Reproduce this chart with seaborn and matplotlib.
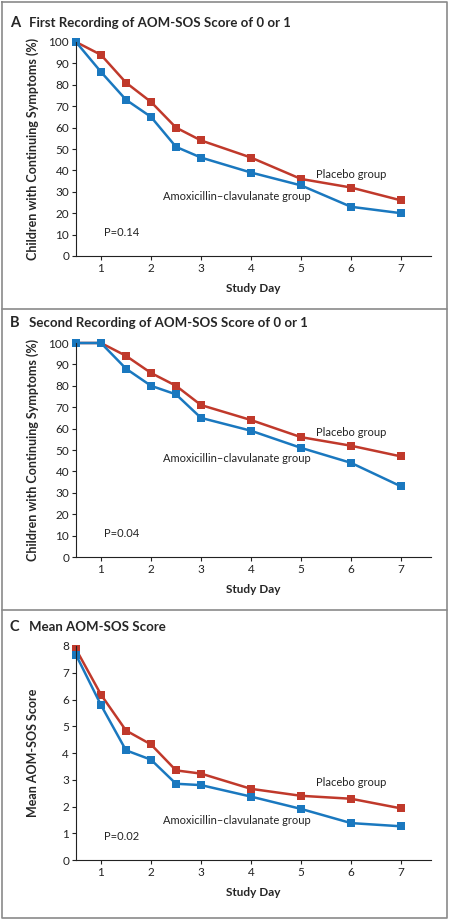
import matplotlib
matplotlib.use('Agg')
import matplotlib.pyplot as plt
from matplotlib.lines import Line2D
import seaborn as sns
import pandas as pd

# Dados
dias = [0.5, 1, 1.5, 2, 2.5, 3, 4, 5, 6, 7]

a_placebo = [100, 94, 81, 72, 60, 54, 46, 36, 32, 26]
a_amox = [100, 86, 73, 65, 51, 46, 39, 33, 23, 20]

b_placebo = [100, 100, 94, 86, 80, 71, 64, 56, 52, 47]
b_amox = [100, 100, 88, 80, 76, 65, 59, 51, 44, 33]

c_placebo = [7.88, 6.18, 4.84, 4.32, 3.35, 3.23, 2.66, 2.40, 2.29, 1.93]
c_amox = [7.67, 5.79, 4.10, 3.75, 2.85, 2.80, 2.37, 1.91, 1.38, 1.26]

grupos = ['Placebo group', 'Amoxicillin\u2013clavulanate group']
cores = {'Placebo group': '#c0392b', 'Amoxicillin\u2013clavulanate group': '#1a78bf'}

titulos = ['First Recording of AOM-SOS Score of 0 or 1',
           'Second Recording of AOM-SOS Score of 0 or 1',
           'Mean AOM-SOS Score']
letras = ['A', 'B', 'C']
ylabels = ['Children with Continuing Symptoms (%)',
           'Children with Continuing Symptoms (%)',
           'Mean AOM-SOS Score']
pvalores = ['P=0.14', 'P=0.04', 'P=0.02']
yticks = [list(range(0, 101, 10)), list(range(0, 101, 10)), list(range(0, 9))]
# posicoes dos rotulos (dia, valor)
pos_placebo = [(5.3, 38), (5.3, 58.4), (5.3, 2.88)]
pos_amox = [(2.24, 27.6), (2.24, 45.8), (2.24, 1.46)]
pos_p = [(1.06, 11.2), (1.06, 11.2), (1.06, 0.86)]

series = [(a_placebo, a_amox), (b_placebo, b_amox), (c_placebo, c_amox)]

sns.set_style('ticks')
plt.rcParams['font.family'] = ['Lato', 'DejaVu Sans']

W, H = 450, 921
fig = plt.figure(figsize=(W / 100, H / 100), dpi=100)

# eixos em pixels: (topo do eixo, base do eixo)
eixos_px = [(42, 256), (343, 557), (646, 860)]
titulo_y = [23, 323, 627]

for i in range(3):
    top, bot = eixos_px[i]
    ax = fig.add_axes([76 / W, 1 - bot / H, 355 / W, (bot - top) / H])
    placebo, amox = series[i]
    df = pd.DataFrame({
        'dia': dias + dias,
        'valor': placebo + amox,
        'grupo': [grupos[0]] * len(dias) + [grupos[1]] * len(dias),
    })
    sns.lineplot(data=df, x='dia', y='valor', hue='grupo', hue_order=grupos,
                 palette=cores, marker='s', markersize=6, markeredgewidth=0,
                 linewidth=1.8, legend=False, ax=ax, clip_on=False)
    ax.set_xlim(0.5, 7.6)
    ax.set_ylim(yticks[i][0], yticks[i][-1])
    ax.set_xticks(range(1, 8))
    ax.set_yticks(yticks[i])
    ax.tick_params(direction='out', length=3, width=0.8, labelsize=8.5,
                   pad=2, colors='#222222')
    for s in ['top', 'right']:
        ax.spines[s].set_visible(False)
    for s in ['left', 'bottom']:
        ax.spines[s].set_linewidth(0.8)
        ax.spines[s].set_color('#222222')
    ax.set_xlabel('Study Day', fontsize=8.5, fontweight='bold')
    ax.xaxis.set_label_coords(0.5, -0.125)
    ax.set_ylabel(ylabels[i], fontsize=9, fontweight='bold')
    ax.yaxis.set_label_coords(-0.105, 0.5)

    ax.text(*pos_placebo[i], grupos[0], fontsize=8, va='center', ha='left', color='#222222')
    ax.text(*pos_amox[i], grupos[1], fontsize=8, va='center', ha='left', color='#222222')
    ax.text(*pos_p[i], pvalores[i], fontsize=8, va='center', ha='left', color='#222222')

    fig.text(10 / W, 1 - titulo_y[i] / H, letras[i], fontsize=10.5,
             fontweight='bold', va='center', ha='left')
    fig.text(29 / W, 1 - titulo_y[i] / H, titulos[i], fontsize=9.5,
             fontweight='bold', va='center', ha='left')

# moldura e separadores
cinza = '#8a8a8a'
for y in [309, 610]:
    fig.add_artist(Line2D([2 / W, 447 / W], [1 - y / H, 1 - y / H], color=cinza, lw=1.2))
fig.add_artist(Line2D([2 / W, 447 / W, 447 / W, 2 / W, 2 / W],
                      [1 - 2 / H, 1 - 2 / H, 1 - 918 / H, 1 - 918 / H, 1 - 2 / H],
                      color=cinza, lw=1.2))

fig.savefig('out.png', dpi=100)
